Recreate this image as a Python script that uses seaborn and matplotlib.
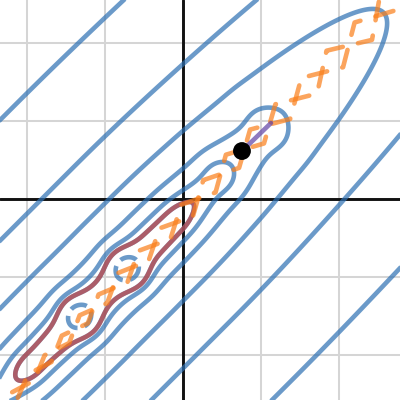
import numpy as np
import matplotlib
matplotlib.use("Agg")
import matplotlib.pyplot as plt
import seaborn as sns

# valley surface: quadratic across the diagonal, floor that is flat in the
# middle and rises towards both ends, plus dips sitting on the floor
VALLEY_OFFSET = -0.18      # value of y - x on the valley floor
SIDE_STIFFNESS = 0.8
FLOOR_BASE = -0.013
UPPER_BEND = -1.0          # x + y where the floor starts rising (upper end)
UPPER_RISE = 1.0
UPPER_SCALE = 3.6
FAR_BEND = 2.4
FAR_RISE = 0.012
LOWER_BEND = -3.2          # x + y where the floor starts rising (lower end)
LOWER_RISE = 0.0326
DIP_ALONG = 0.1
DIP_ACROSS = 0.4
dip_u = [-4.2, -2.83, -1.61, -0.25, 0.83, 2.05]
dip_depth = [0.02, 0.1, 0.1, 0.012, 0.061, 0.14]

blue_levels = [-0.072, 0.1, 0.316, 1.0, 3.16, 10.0]
red_levels = [0.026]

# two dashed paths (braided)
path_a_x = [-2.118, -1.986, -1.687, -1.554, -1.221, -1.082, -0.712, -0.571, -0.162,
            -0.022, 0.417, 0.550, 1.038, 1.185, 1.719, 1.840, 2.423, 2.536]
path_a_y = [-2.549, -2.245, -2.090, -1.752, -1.594, -1.224, -1.068, -0.665, -0.514,
            -0.074, 0.084, 0.568, 0.712, 1.215, 1.351, 1.901, 2.040, 2.669]
path_b_x = [-2.190, -1.906, -1.774, -1.459, -1.325, -0.972, -0.832, -0.442, -0.300,
            0.127, 0.260, 0.719, 0.860, 1.374, 1.517, 2.052, 2.200, 2.772]
path_b_y = [-2.477, -2.324, -2.003, -1.846, -1.491, -1.335, -0.948, -0.794, -0.376,
            -0.223, 0.242, 0.399, 0.890, 1.026, 1.552, 1.689, 2.263, 2.433]

point_x = [0.756]
point_y = [0.615]
step_x = [0.756, 1.128]
step_y = [0.615, 0.974]

BLUE = "#2d70b3"
RED = "#c74440"
ORANGE = "#fa7e19"
PURPLE = "#6042a6"

sns.set_theme(style="white")

xs = np.linspace(-2.5, 2.95, 800)
ys = np.linspace(-2.7, 2.7, 800)
X, Y = np.meshgrid(xs, ys)
U = X + Y
V = Y - X
F = SIDE_STIFFNESS * (V - VALLEY_OFFSET) ** 2 + FLOOR_BASE
upper = np.maximum(0, U - UPPER_BEND) / UPPER_SCALE
F += UPPER_RISE * (np.sqrt(1 + upper ** 2) - 1)
F += FAR_RISE * np.maximum(0, U - FAR_BEND) ** 2
F += LOWER_RISE * np.maximum(0, LOWER_BEND - U) ** 2
for u0, depth in zip(dip_u, dip_depth):
    F -= depth * np.exp(-(U - u0) ** 2 / DIP_ALONG
                        - (V - VALLEY_OFFSET) ** 2 / DIP_ACROSS)

fig = plt.figure(figsize=(4, 4), dpi=100)
ax = fig.add_axes([0, 0, 1, 1])
ax.set_xlim(-183 / 78, 217 / 78)
ax.set_ylim(-201 / 78, 199 / 78)

ax.set_xticks([-2, -1, 0, 1, 2])
ax.set_yticks([-2, -1, 0, 1, 2])
ax.grid(True, color="#d5d5d5", lw=1.45)
ax.set_axisbelow(True)
ax.tick_params(length=0, labelbottom=False, labelleft=False)
for s in ax.spines.values():
    s.set_visible(False)
ax.axhline(0, color="#111111", lw=2.1, zorder=1)
ax.axvline(0, color="#111111", lw=2.1, zorder=1)

ax.contour(X, Y, F, levels=sorted(blue_levels + red_levels), colors=BLUE,
           linewidths=3.3, alpha=0.7, zorder=2)
ax.contour(X, Y, F, levels=red_levels, colors=RED,
           linewidths=3.3, alpha=0.7, zorder=3)

for px, py in [(path_a_x, path_a_y), (path_b_x, path_b_y)]:
    sns.lineplot(x=px, y=py, sort=False, estimator=None, color=ORANGE,
                 alpha=0.7, lw=3.3, ax=ax, zorder=4)
    line = ax.lines[-1]
    line.set_linestyle((0, (4.1, 3.4)))
    line.set_dash_capstyle("round")

sns.lineplot(x=step_x, y=step_y, sort=False, estimator=None, color=PURPLE,
             alpha=0.7, lw=3.3, ax=ax, zorder=5, solid_capstyle="round")
sns.scatterplot(x=point_x, y=point_y, s=165, color="black", edgecolor="none",
                ax=ax, zorder=6)

fig.savefig("out.png", dpi=100)
